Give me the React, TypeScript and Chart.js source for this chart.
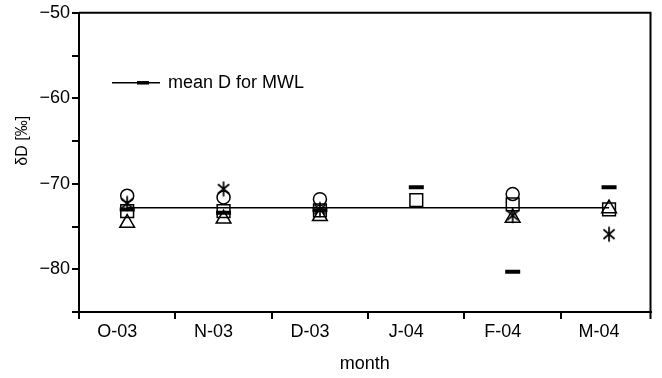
import React, { useEffect, useRef } from 'react';
import { Chart, registerables } from 'chart.js';

Chart.register(...registerables);

const months = ['O-03', 'N-03', 'D-03', 'J-04', 'F-04', 'M-04'];
const monthIndex = [0, 1, 2, 3, 4, 5];
const circleValues = [-71.4, -71.6, -71.8, null, -71.2, null];
const asteriskValues = [-72.3, -70.6, -73.0, null, -73.7, -75.9];
const squareValues = [-73.2, -73.2, -73.1, -71.9, -72.4, -73.0];
const triangleValues = [-74.6, -74.1, -73.8, null, -74.0, -72.9];
const dashValues = [-73.0, -73.4, -73.1, -70.4, -80.3, -70.4];
const meanValues = [-72.8, -72.8, -72.8, -72.8, -72.8, -72.8];
const meanLabel = 'mean D for MWL';
const xTitle = 'month';
const yTitle = 'δD [‰]';

const FONT = '"Liberation Sans", Arial, sans-serif';

function toPoints(vals: (number | null)[]) {
  return monthIndex
    .map((x, i) => ({ x, y: vals[i] }))
    .filter((p) => p.y !== null) as { x: number; y: number }[];
}

function makeAsterisk(): HTMLCanvasElement {
  const s = 18;
  const c = document.createElement('canvas');
  c.width = s;
  c.height = s;
  const g = c.getContext('2d')!;
  g.strokeStyle = '#000';
  g.lineWidth = 1.7;
  const m = s / 2;
  const r = 7.5;
  g.beginPath();
  g.moveTo(m, m - r);
  g.lineTo(m, m + r);
  const d = r * Math.cos(Math.PI / 4) * 1.05;
  g.moveTo(m - d, m - d * 0.85);
  g.lineTo(m + d, m + d * 0.85);
  g.moveTo(m + d, m - d * 0.85);
  g.lineTo(m - d, m + d * 0.85);
  g.stroke();
  return c;
}

const framePlugin = {
  id: 'frame',
  afterDraw(chart: any) {
    const { ctx, chartArea } = chart;
    const { left, right, top, bottom } = chartArea;
    ctx.save();
    ctx.strokeStyle = '#000';
    ctx.lineWidth = 2;
    ctx.beginPath();
    ctx.moveTo(left, top);
    ctx.lineTo(right, top);
    ctx.lineTo(right, bottom + 7);
    ctx.stroke();
    // legend
    const ly = top + 70;
    const lx1 = left + 33;
    const lx2 = left + 81;
    ctx.lineWidth = 1.6;
    ctx.beginPath();
    ctx.moveTo(lx1, ly);
    ctx.lineTo(lx2, ly);
    ctx.stroke();
    ctx.lineWidth = 3.5;
    ctx.beginPath();
    ctx.moveTo(left + 58, ly);
    ctx.lineTo(left + 70, ly);
    ctx.stroke();
    ctx.fillStyle = '#000';
    ctx.font = '18px ' + FONT;
    ctx.textBaseline = 'middle';
    ctx.textAlign = 'left';
    ctx.fillText(meanLabel, left + 89, ly);
    // y title
    ctx.save();
    ctx.translate(23, top + 128);
    ctx.rotate(-Math.PI / 2);
    ctx.font = '16px ' + FONT;
    ctx.textAlign = 'center';
    ctx.textBaseline = 'middle';
    ctx.fillText(yTitle, 0, 0);
    ctx.restore();
    ctx.restore();
  },
};

export default function App() {
  const ref = useRef<HTMLCanvasElement | null>(null);
  useEffect(() => {
    if (!ref.current) return;
    const asterisk = makeAsterisk();
    const marker = (label: string, vals: (number | null)[], style: any, radius: number, bw: number) => ({
      label,
      data: toPoints(vals),
      showLine: false,
      pointStyle: style,
      pointRadius: radius,
      pointBorderWidth: bw,
      pointBorderColor: '#000',
      pointBackgroundColor: 'rgba(0,0,0,0)',
      borderColor: '#000',
      backgroundColor: 'rgba(0,0,0,0)',
    });
    const chart = new Chart(ref.current, {
      type: 'line',
      data: {
        datasets: [
          {
            label: meanLabel,
            data: toPoints(meanValues),
            showLine: true,
            borderColor: '#000',
            borderWidth: 1.6,
            pointRadius: 0,
            fill: false,
          } as any,
          marker('circle', circleValues, 'circle', 6.5, 1.5),
          marker('asterisk', asteriskValues, asterisk, 8, 1.4),
          marker('square', squareValues, 'rect', 9, 1.5),
          marker('triangle', triangleValues, 'triangle', 8.5, 1.5),
          marker('dash', dashValues, 'line', 7.5, 4),
        ],
      },
      options: {
        animation: false,
        responsive: true,
        maintainAspectRatio: false,
        layout: { padding: { top: 12, right: 8, left: 0, bottom: 0 } },
        plugins: {
          legend: { display: false },
          tooltip: { enabled: false },
        },
        scales: {
          x: {
            type: 'linear',
            min: -0.5,
            max: 5.43,
            afterBuildTicks: (scale: any) => {
              scale.ticks = monthIndex.map((v) => ({ value: v }));
            },
            afterFit: (scale: any) => {
              scale.height = 66;
            },
            grid: {
              offset: true,
              drawOnChartArea: false,
              drawTicks: true,
              tickLength: 7,
              color: '#000',
              lineWidth: 2,
            },
            border: { display: true, color: '#000', width: 2 },
            ticks: {
              color: '#000',
              font: { family: FONT, size: 18 },
              padding: 2,
              labelOffset: -10,
              maxRotation: 0,
              autoSkip: false,
              callback: (v: any) => months[Math.round(Number(v))] ?? '',
            },
            title: {
              display: true,
              text: xTitle,
              color: '#000',
              font: { family: FONT, size: 18 },
              padding: { top: 0, bottom: 3 },
            },
          },
          y: {
            type: 'linear',
            min: -85,
            max: -50,
            afterFit: (scale: any) => {
              scale.width = 79;
            },
            grid: {
              drawOnChartArea: false,
              drawTicks: true,
              tickLength: 7,
              color: '#000',
              lineWidth: 2,
            },
            border: { display: true, color: '#000', width: 2 },
            ticks: {
              stepSize: 5,
              color: '#000',
              font: { family: FONT, size: 18 },
              padding: 2,
              callback: (v: any) => {
                const n = Number(v);
                return n % 10 === 0 ? '\u2212' + Math.abs(n) : '';
              },
            },
            title: { display: false },
          },
        },
      } as any,
      plugins: [framePlugin],
    });
    return () => chart.destroy();
  }, []);
  return (
    <div style={{ position: 'fixed', left: 0, top: 0, width: 662, height: 378, background: '#fff' }}>
      <canvas ref={ref} />
    </div>
  );
}
